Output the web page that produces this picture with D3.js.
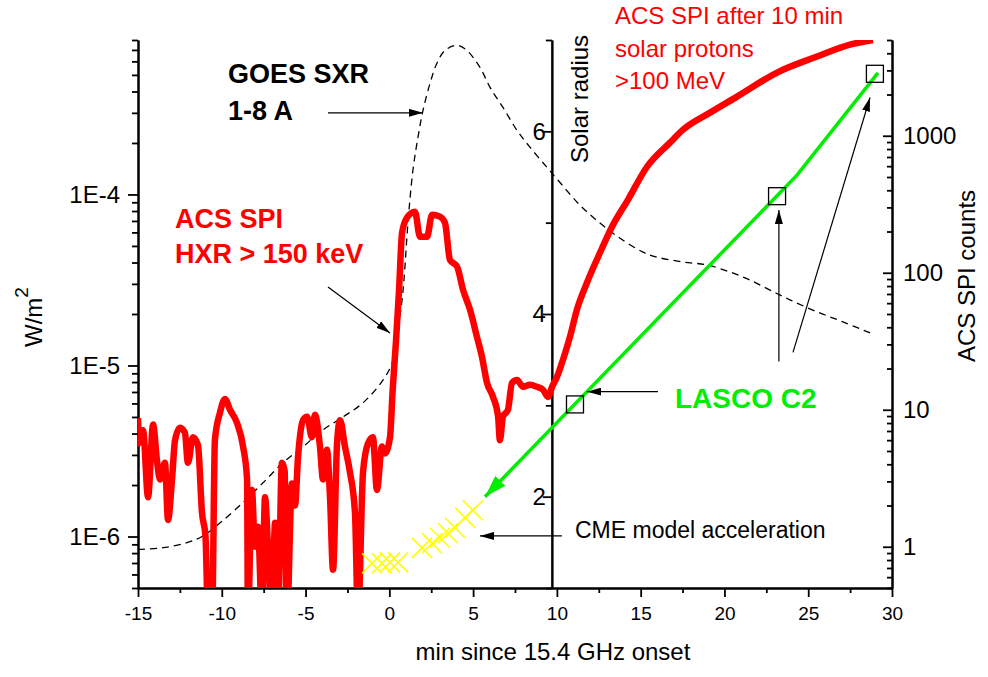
<!DOCTYPE html>
<html>
<head>
<meta charset="utf-8">
<script src="https://cdn.jsdelivr.net/npm/d3@7"></script>
<style>
  body { margin: 0; background: #fff; }
  text { font-family: Arial, "Liberation Sans", sans-serif; }
</style>
</head>
<body>
<div id="chart"></div>
<script>
// GOES SXR 1-8 A flux, W/m^2 (left axis)
const goesTime = [-15, -13.51, -12.08, -11.18, -10.11, -8.73, -7.54, -6.35, -5.15, -3.96, -2.77, -1.57, -0.38,
  0.16, 0.34, 0.76, 0.93, 1.11, 1.41, 1.71, 2.01, 2.43, 2.84, 3.32, 4.04, 4.63, 5.41, 6.01, 6.78, 7.62, 8.39,
  9.41, 10.07, 11.38, 12.57, 13.77, 15.14, 15.97, 17.53, 18.96, 20.33, 21.52, 22.72, 23.91, 25.52, 27.07, 28.69];
const goesFlux = [8.4e-7, 8.6e-7, 9.2e-7, 1.0e-6, 1.2e-6, 1.58e-6, 2.06e-6, 2.7e-6, 3.35e-6, 4.2e-6, 5.0e-6, 6.05e-6, 8.2e-6,
  1.03e-5, 1.28e-5, 2.42e-5, 3.77e-5, 6.8e-5, 1.39e-4, 2.16e-4, 3.1e-4, 4.47e-4, 5.85e-4, 6.95e-4, 7.44e-4, 6.95e-4, 5.53e-4, 4.23e-4, 3.23e-4, 2.37e-4, 1.89e-4,
  1.44e-4, 1.21e-4, 8.65e-5, 6.8e-5, 5.55e-5, 4.6e-5, 4.3e-5, 4.03e-5, 3.87e-5, 3.52e-5, 3.16e-5, 2.76e-5, 2.42e-5, 2.06e-5, 1.8e-5, 1.55e-5];

// ACS SPI counts (right axis): HXR burst, then solar protons
const spiTime = [-15.0, -14.94, -14.70, -14.40, -14.10, -13.87, -13.69, -13.39, -13.21, -12.97, -12.79, -12.49, -12.20, -12.02,
  -11.72, -11.42, -11.18, -10.97, -10.82, -10.58, -10.41, -10.11, -9.81, -9.51, -9.09, -8.73, -8.49, -8.44, -8.20, -8.02,
  -7.84, -7.60, -7.42, -7.24, -7.00, -6.82, -6.65, -6.41, -6.25, -6.11, -5.81, -5.63, -5.45, -5.15, -4.91, -4.62, -4.44,
  -4.14, -3.96, -3.72, -3.54, -3.36, -3.12, -2.94, -2.65, -2.35, -2.05, -1.87, -1.57, -1.27, -0.98, -0.74, -0.44, -0.26,
  0.04, 0.2, 0.4, 0.58, 0.76, 1.05, 1.53, 1.83, 2.25, 2.55, 3.02, 3.32, 3.62, 4.04, 4.40, 4.81, 5.23, 5.53, 5.83, 6.19,
  6.49, 6.60, 6.78, 7.08, 7.32, 7.62, 7.98, 8.39, 8.81, 9.17, 9.47, 9.71, 10.01, 10.36, 10.78, 11.20, 11.80, 12.57,
  13.29, 14.24, 15.38, 16.75, 17.53, 19.14, 20.75, 23.14, 25.52, 27.49, 28.86];
const spiCounts = [8.7, 5.7, 7.1, 2.3, 7.8, 4.3, 3.1, 4.1, 1.57, 3.1, 6.0, 7.4, 6.8, 4.1,
  6.3, 5.5, 1.77, 1.18, 0.3, 0.3, 6.0, 9.5, 12, 10.0, 8.0, 5.4, 3.1, 0.3, 2.6, 1.0,
  1.4, 0.3, 2.3, 1.0, 0.3, 1.5, 0.3, 4.1, 3.6, 0.3, 2.9, 2.0, 4.5, 8.4, 8.9, 6.3, 9.2,
  5.4, 3.1, 5.1, 2.3, 0.68, 5.7, 8.4, 5.4, 3.5, 1.77, 0.3, 3.5, 5.7, 6.3, 2.6, 5.4, 4.8,
  6.3, 14, 32, 75, 196, 252, 279, 183, 183, 265, 257, 232, 124, 111, 75, 54, 34, 24.3, 15.7, 12.4,
  8.9, 6.0, 8.9, 10, 15.7, 16.5, 14.7, 15.2, 14.7, 14.0, 12.4, 14.7, 17.4, 23.1, 34, 54, 85, 140,
  217, 341, 594, 891, 1108, 1475, 1931, 2893, 3785, 4627, 5000];

// LASCO C2 heights, solar radii (middle axis)
const lascoTime = [11.08, 23.14, 28.98];
const lascoHeight = [3.01, 5.29, 6.63];
// height-time fit, drawn back towards the start
const fitTime = [29.16, 24.33, 5.71];
const fitHeight = [6.64, 5.52, 2.0];
// CME model acceleration points
const modelTime = [-1.03, -0.44, 0.04, 0.52, 1.95, 2.55, 3.02, 3.50, 3.92, 4.52, 4.99];
const modelHeight = [1.27, 1.27, 1.28, 1.28, 1.44, 1.49, 1.55, 1.60, 1.66, 1.77, 1.85];

// tick labels
const timeTicks = [-15, -10, -5, 0, 5, 10, 15, 20, 25, 30];
const fluxTicks = [1e-6, 1e-5, 1e-4];
const countTicks = [1, 10, 100, 1000];
const radiusTicks = [2, 4, 6];

const W = 988, H = 677;
const margin = { top: 40, right: 96, bottom: 89, left: 138 };
const width = W - margin.left - margin.right;
const height = H - margin.top - margin.bottom;

const svg = d3.select("#chart").append("svg")
  .attr("width", W).attr("height", H);

const defs = svg.append("defs");
defs.append("clipPath").attr("id", "plot")
  .append("rect").attr("width", width).attr("height", height);
defs.append("marker").attr("id", "arrowBlack")
  .attr("markerUnits", "userSpaceOnUse").attr("markerWidth", 14).attr("markerHeight", 8)
  .attr("refX", 14).attr("refY", 4).attr("orient", "auto")
  .append("path").attr("d", "M0,0L14,4L0,8Z").attr("fill", "black");
defs.append("marker").attr("id", "arrowGreen")
  .attr("markerUnits", "userSpaceOnUse").attr("markerWidth", 22).attr("markerHeight", 14)
  .attr("refX", 22).attr("refY", 7).attr("orient", "auto")
  .append("path").attr("d", "M0,0L22,7L0,14Z").attr("fill", "#00ee00");

const g = svg.append("g").attr("transform", `translate(${margin.left},${margin.top})`);

// Scales
const x = d3.scaleLinear().domain([-15, 30]).range([0, width]);
const yFlux = d3.scaleLog().domain([5e-7, 8e-4]).range([height, 0]);
const yCounts = d3.scaleLog().domain([0.5, 5000]).range([height, 0]);
const yRadius = d3.scaleLinear().domain([1, 7]).range([height, 0]);

// minor log ticks 2..9 per decade inside a domain
function logMinor(scale) {
  const [lo, hi] = scale.domain();
  const out = [];
  for (let e = Math.floor(Math.log10(lo)); e <= Math.ceil(Math.log10(hi)); e++) {
    for (let m = 2; m <= 9; m++) {
      const v = m * Math.pow(10, e);
      if (v >= lo * 0.999 && v <= hi * 1.001) out.push(v);
    }
  }
  return out;
}

function styleAxis(sel, size) {
  sel.select(".domain").attr("stroke-width", 2);
  sel.selectAll(".tick line").attr("stroke-width", 1.8);
  sel.selectAll(".tick text").style("font-size", size + "px").attr("fill", "black");
}

// plain hyphen minus, like the original
const plain = d => String(d);

// Bottom axis
g.append("g").attr("transform", `translate(0,${height})`)
  .call(d3.axisBottom(x).tickValues(d3.range(-12.5, 30, 5)).tickSize(5).tickSizeOuter(0).tickFormat(""))
  .call(s => styleAxis(s, 19));
g.append("g").attr("transform", `translate(0,${height})`)
  .call(d3.axisBottom(x).tickValues(timeTicks).tickSize(9).tickSizeOuter(0).tickPadding(10).tickFormat(plain))
  .call(s => styleAxis(s, 19));

// Left axis (W/m^2)
g.append("g")
  .call(d3.axisLeft(yFlux).tickValues(logMinor(yFlux)).tickSize(6).tickSizeOuter(0).tickFormat(""))
  .call(s => styleAxis(s, 24));
g.append("g")
  .call(d3.axisLeft(yFlux).tickValues(fluxTicks).tickSize(10).tickSizeOuter(0).tickPadding(8)
    .tickFormat(d => "1E" + Math.round(Math.log10(d))))
  .call(s => styleAxis(s, 24));

// Right axis (counts), ticks pointing inward
g.append("g").attr("transform", `translate(${width},0)`)
  .call(d3.axisRight(yCounts).tickValues(logMinor(yCounts)).tickSize(-5).tickSizeOuter(0).tickFormat(""))
  .call(s => styleAxis(s, 24));
g.append("g").attr("transform", `translate(${width},0)`)
  .call(d3.axisRight(yCounts).tickValues(countTicks).tickSize(-9).tickSizeOuter(0).tickPadding(11)
    .tickFormat(plain))
  .call(s => styleAxis(s, 24));

// Middle axis (solar radius)
const midX = x(9.7);
g.append("g").attr("transform", `translate(${midX},0)`)
  .call(d3.axisLeft(yRadius).tickValues([1, 3, 5, 7]).tickSize(6).tickSizeOuter(0).tickFormat(""))
  .call(s => styleAxis(s, 24));
g.append("g").attr("transform", `translate(${midX},0)`)
  .call(d3.axisLeft(yRadius).tickValues(radiusTicks).tickSize(9).tickSizeOuter(0).tickPadding(-3)
    .tickFormat(plain))
  .call(s => styleAxis(s, 24));

const plot = g.append("g").attr("clip-path", "url(#plot)");

// GOES dashed curve
const goesData = goesTime.map((t, i) => ({ t, v: goesFlux[i] }));
plot.append("path").datum(goesData)
  .attr("d", d3.line().x(d => x(d.t)).y(d => yFlux(d.v)).curve(d3.curveCatmullRom))
  .attr("fill", "none").attr("stroke", "black").attr("stroke-width", 1.3)
  .attr("stroke-dasharray", "7,5");

// ACS SPI counts
const spiData = spiTime.map((t, i) => ({ t, v: spiCounts[i] }));
plot.append("path").datum(spiData)
  .attr("d", d3.line().x(d => x(d.t)).y(d => yCounts(d.v)).curve(d3.curveMonotoneX))
  .attr("fill", "none").attr("stroke", "#ff0000").attr("stroke-width", 6.5)
  .attr("stroke-linejoin", "round");

// LASCO fit line with arrow
const fitData = fitTime.map((t, i) => ({ t, v: fitHeight[i] }));
g.append("path").datum(fitData)
  .attr("d", d3.line().x(d => x(d.t)).y(d => yRadius(d.v)))
  .attr("fill", "none").attr("stroke", "#00ee00").attr("stroke-width", 3.5)
  .attr("marker-end", "url(#arrowGreen)");

// LASCO squares
g.selectAll(".lasco").data(lascoTime).enter().append("rect")
  .attr("x", (d, i) => x(d) - 8.5).attr("y", (d, i) => yRadius(lascoHeight[i]) - 8.5)
  .attr("width", 17).attr("height", 17)
  .attr("fill", "none").attr("stroke", "black").attr("stroke-width", 1.3);

// CME model crosses
g.selectAll(".model").data(modelTime).enter().append("path")
  .attr("transform", (d, i) => `translate(${x(d)},${yRadius(modelHeight[i])})`)
  .attr("d", "M-10,-10L10,10M-10,10L10,-10")
  .attr("stroke", "#ffff00").attr("stroke-width", 1.6);

// Annotation arrows (in data units)
const arrows = [
  { x1: -3.66, y1: yFlux(3e-4), x2: 2.01, y2: yFlux(3e-4) },
  { x1: -3.66, y1: yFlux(2.88e-5), x2: 0.04, y2: yFlux(1.55e-5) },
  { x1: 16.03, y1: yRadius(3.15), x2: 11.8, y2: yRadius(3.15) },
  { x1: 23.25, y1: yRadius(3.48), x2: 23.25, y2: yRadius(5.14) },
  { x1: 24.09, y1: yRadius(3.58), x2: 28.69, y2: yRadius(6.37) },
  { x1: 10.3, y1: yRadius(1.57), x2: 5.41, y2: yRadius(1.57) }
];
g.selectAll(".arrow").data(arrows).enter().append("line")
  .attr("x1", d => x(d.x1)).attr("y1", d => d.y1)
  .attr("x2", d => x(d.x2)).attr("y2", d => d.y2)
  .attr("stroke", "black").attr("stroke-width", 1.2)
  .attr("marker-end", "url(#arrowBlack)");

// Labels
function label(txt, px, py, opts) {
  svg.append("text").attr("x", px).attr("y", py)
    .style("font-size", opts.size + "px")
    .style("font-weight", opts.bold ? "bold" : "normal")
    .attr("fill", opts.color || "black")
    .attr("text-anchor", opts.anchor || "start")
    .text(txt);
}
label("GOES SXR", 228, 83, { size: 27, bold: true });
label("1-8 A", 228, 120, { size: 27, bold: true });
label("ACS SPI", 175, 228, { size: 27, bold: true, color: "#ff0000" });
label("HXR > 150 keV", 175, 263, { size: 27, bold: true, color: "#ff0000" });
label("ACS SPI after 10 min", 615, 24, { size: 24, color: "#ff0000" });
label("solar protons", 615, 57, { size: 24, color: "#ff0000" });
label(">100 MeV", 615, 89, { size: 24, color: "#ff0000" });
label("LASCO C2", 675, 408, { size: 28, bold: true, color: "#00ee00" });
label("CME model acceleration", 575, 538, { size: 23 });
label("min since 15.4 GHz onset", 553, 660, { size: 24, anchor: "middle" });

// Axis titles (rotated)
const wm = svg.append("text").attr("transform", "translate(42,347) rotate(-90)")
  .style("font-size", "24px").attr("fill", "black");
wm.append("tspan").text("W/m");
wm.append("tspan").attr("dy", -14).style("font-size", "19px").text("2");

svg.append("text").attr("transform", "translate(588,163) rotate(-90)")
  .style("font-size", "24px").attr("fill", "black").text("Solar radius");
svg.append("text").attr("transform", "translate(975,276) rotate(-90)")
  .attr("text-anchor", "middle")
  .style("font-size", "24px").attr("fill", "black").text("ACS SPI counts");
</script>
</body>
</html>
